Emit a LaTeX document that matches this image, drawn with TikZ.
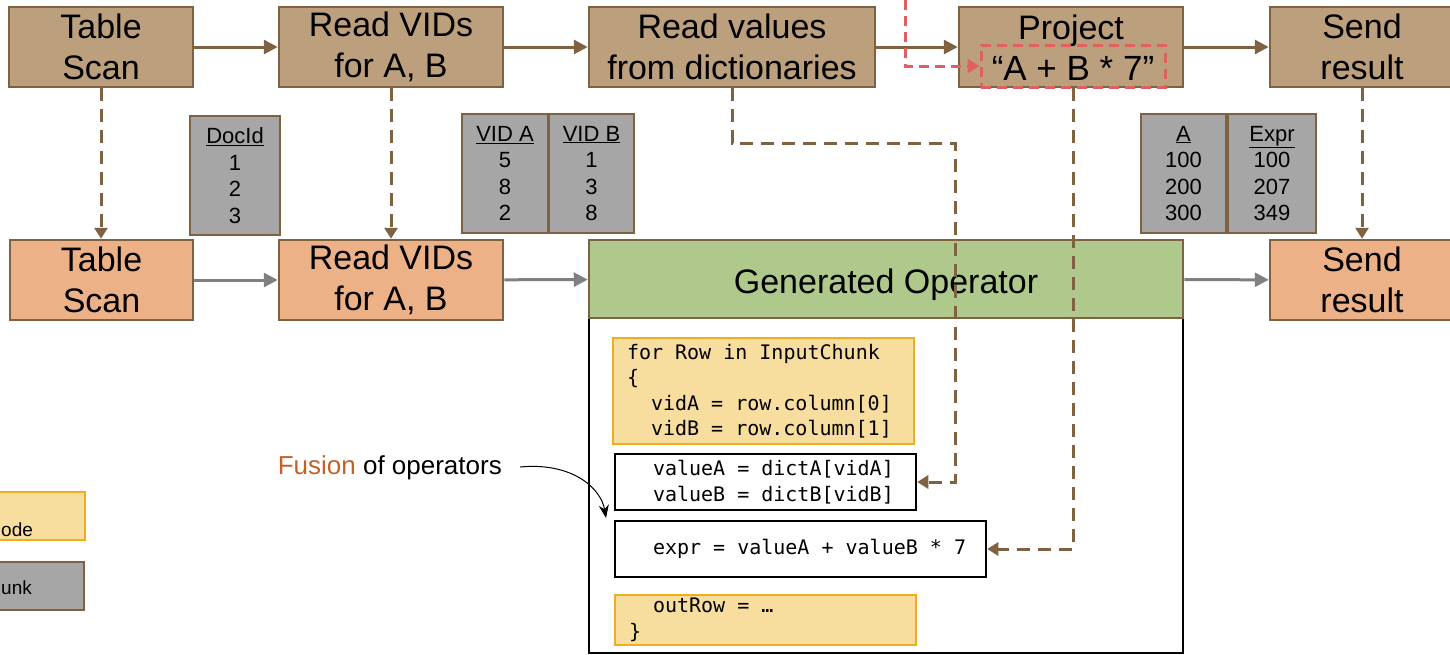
\documentclass[tikz,border=0pt]{standalone}
\usepackage{fontspec}
\setmainfont{Liberation Sans}
\newfontfamily\codefont{DejaVu Sans Mono}
\usetikzlibrary{arrows.meta,calc}
\definecolor{brfill}{RGB}{188,160,125}
\definecolor{brline}{RGB}{127,98,66}
\definecolor{orfill}{RGB}{237,177,136}
\definecolor{grfill}{RGB}{174,201,139}
\definecolor{gyfill}{RGB}{166,166,166}
\definecolor{ylfill}{RGB}{247,221,158}
\definecolor{ylline}{RGB}{237,175,30}
\definecolor{rdline}{RGB}{224,96,96}
\definecolor{arrgray}{RGB}{128,128,128}
\definecolor{fusecol}{RGB}{192,98,42}
\newcommand{\monosp}{\spaceskip=12.04pt\relax\xspaceskip=12.04pt\relax}
\begin{document}
\begin{tikzpicture}[x=1pt,y=-1pt,
  opbox/.style={draw=brline,line width=2.5pt,inner sep=0pt,align=center,
    font=\fontsize{34}{41}\selectfont},
  topbox/.style={opbox,fill=brfill,minimum height=80pt},
  botbox/.style={opbox,fill=orfill,minimum height=80pt},
  tbl/.style={draw=brline,line width=2.5pt,fill=gyfill,inner sep=0pt,align=center,
    minimum height=119pt,font=\fontsize{22}{26.5}\selectfont},
  codebox/.style={line width=2.5pt,inner xsep=14pt,inner ysep=0pt,align=left,
    font=\codefont\fontsize{20}{25.5}\selectfont},
  ycode/.style={codebox,draw=ylline,fill=ylfill},
  wcode/.style={codebox,draw=black,fill=white},
  brarrow/.style={draw=brline,line width=3pt,-{Triangle[length=14pt,width=14pt]}},
  gyarrow/.style={draw=arrgray,line width=3pt,-{Triangle[length=14pt,width=14pt]}},
  brdash/.style={draw=brline,line width=3pt,dash pattern=on 13pt off 8pt,
    -{Triangle[length=11pt,width=13pt]}},
  rddash/.style={draw=rdline,line width=3pt,dash pattern=on 10pt off 6pt,
    -{Triangle[length=12pt,width=14pt]}},
  legbox/.style={line width=2.5pt,minimum width=100pt,minimum height=48pt,inner sep=0pt},
  legtext/.style={anchor=west,font=\fontsize{19}{23}\selectfont,inner sep=0pt}
]
\useasboundingbox (0,0) rectangle (1450,654);

% top row
\node[topbox,minimum width=184pt] (ts1) at (101,47) {Table\\Scan};
\node[topbox,minimum width=224pt] (rv1) at (391,47) {Read VIDs\\for A, B};
\node[topbox,minimum width=286pt] (rd1) at (732,47) {Read values\\from dictionaries};
\node[topbox,minimum width=224pt] (pj1) at (1071,47) {};
\node[font=\fontsize{34}{41}\selectfont,inner sep=0pt,anchor=base] (pjt) at (1071,39) {Project};
\node[draw=rdline,line width=3pt,dash pattern=on 10pt off 6pt,minimum width=184pt,
  minimum height=42pt,inner sep=0pt] (q) at (1073,66) {};
\node[font=\fontsize{35}{41}\selectfont,inner sep=0pt,anchor=base] (qt) at (1073,80) {“A + B * 7”};
\node[topbox,minimum width=184pt] (sr1) at (1362,47) {Send\\result};

% tables
\node[tbl,minimum width=90pt] (tdoc) at (235,175.5) {\underline{DocId}\\1\\2\\3};
\node[tbl,minimum width=86pt] (tva) at (505,173.5) {\underline{VID A}\\5\\8\\2};
\node[tbl,minimum width=85pt] (tvb) at (591.5,173.5) {\underline{VID B}\\1\\3\\8};
\node[tbl,minimum width=85pt] (ta) at (1183.5,173.5) {\underline{A}\\100\\200\\300};
\node[tbl,minimum width=88pt] (tex) at (1272,173.5) {\underline{Expr}\\100\\207\\349};

% bottom row
\node[botbox,minimum width=183pt] (ts2) at (101.5,280) {Table\\Scan};
\node[botbox,minimum width=224pt] (rv2) at (391,280) {Read VIDs\\for A, B};
\node[draw=black,line width=2pt,fill=white,minimum width=594pt,minimum height=335pt,inner sep=0pt] (big) at (886,485.5) {};
\node[opbox,fill=grfill,minimum width=594pt,minimum height=78pt] (gen) at (886,279) {};
\node[font=\fontsize{34}{41}\selectfont,inner sep=0pt,anchor=base] (gent) at (886,293) {Generated Operator};
\node[botbox,minimum width=184pt] (sr2) at (1362,280) {Send\\result};

% code
\node[ycode,minimum height=106pt,text width=273pt] (c1) at (763.5,391)
  {\monosp for Row in InputChunk\\\{\\\hspace*{24pt}vidA = row.column[0]\\\hspace*{24pt}vidB = row.column[1]};
\node[wcode,minimum height=56pt,text width=273pt] (c2) at (765.5,482)
  {\monosp\hspace*{24pt}valueA = dictA[vidA]\\\hspace*{24pt}valueB = dictB[vidB]};
\node[wcode,minimum height=56pt,text width=343pt] (c3) at (800.5,549)
  {\monosp\hspace*{24pt}expr = valueA + valueB * 7};
\node[ycode,minimum height=50pt,text width=273pt] (c4) at (765.5,620)
  {\monosp\hspace*{24pt}outRow = …\\\}};

% legend
\node[legbox,draw=ylline,fill=ylfill] (lg1) at (35,516) {};
\node[legtext] (lg1t) at (1,530) {ode};
\node[legbox,draw=brline,fill=gyfill] (lg2) at (34,586) {};
\node[legtext] (lg2t) at (1,588) {unk};

% fusion label
\node[anchor=east,inner sep=0pt,font=\fontsize{26}{30}\selectfont] (fus) at (502,468)
  {\textcolor{fusecol}{Fusion} of operators};
\coordinate (fstart) at (520,467);
\coordinate (ftip) at (606,518);
\draw[line width=1pt,-{Stealth[length=13pt,width=10pt]}] (fstart) .. controls (572,462) and (601,488) .. (ftip);

% top arrows
\draw[brarrow] (ts1) -- (rv1);
\draw[brarrow] (rv1) -- (rd1);
\draw[brarrow] (rd1) -- (pj1);
\draw[brarrow] (pj1) -- (sr1);

% bottom arrows
\draw[gyarrow] (ts2) -- (rv2);
\draw[gyarrow] (rv2) -- (gen);
\draw[gyarrow] (gen) -- (sr2);

% dashed links
\draw[brdash] (ts1.south) -- (ts1.south |- ts2.north);
\draw[brdash] (rv1.south) -- (rv2.north);
\draw[brdash] (sr1.south) -- (sr2.north);
\coordinate (bend1) at (955,143);
\draw[brdash] (rd1.south) |- (bend1) |- (c2.east);
\draw[brdash] ([xshift=2pt]pj1.south) |- (c3.east);
\coordinate (rtop) at (905,0);
\draw[rddash] (rtop) |- (q.west);
\end{tikzpicture}
\end{document}
